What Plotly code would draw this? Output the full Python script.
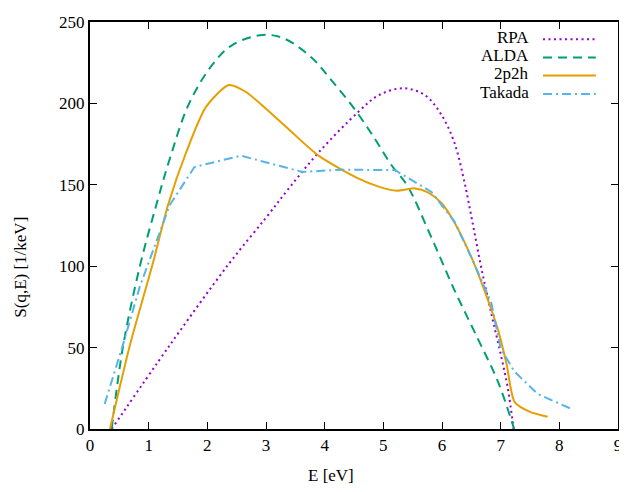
import plotly.graph_objects as go

# --- data ---
rpa_E = [0.37, 1.36, 2.37, 3.0, 3.39, 3.9, 4.58, 4.92, 5.34, 5.71, 5.99, 6.21, 6.38, 6.53, 6.67, 6.84, 7.0, 7.12, 7.22]
rpa_S = [0, 51.5, 101.6, 129.8, 147.8, 170, 195, 205, 209.3, 205, 193, 176, 152, 125, 99, 71, 46, 25.4, 0]

alda_E = [0.37, 0.56, 0.85, 1.13, 1.36, 1.69, 2.09, 2.43, 2.94, 3.3, 3.78, 4.12, 4.52, 4.86, 5.14, 5.4, 5.82, 6.21, 6.61, 6.95, 7.23]
alda_S = [0, 50, 100, 137.6, 166, 200, 224, 236, 242, 240, 228, 214, 196, 178, 162, 150, 117.6, 85.5, 55.5, 29.4, 0]

p2h_E = [0.34, 0.68, 1.07, 1.33, 1.64, 1.98, 2.37, 2.66, 2.99, 3.39, 3.9, 4.58, 4.92, 5.23, 5.54, 5.76, 5.99, 6.21, 6.5, 6.72, 6.95, 7.1, 7.24, 7.5, 7.8]
p2h_S = [0, 51.5, 101.6, 137.6, 170, 198, 211.3, 207, 197, 184, 167.8, 153.8, 148.9, 146.4, 147.8, 145.4, 138.8, 127, 105.6, 85.5, 61.5, 40, 16.5, 10.5, 7.5]

tak_E = [0.25, 0.56, 0.85, 1.36, 1.78, 2.57, 3.62, 4.29, 5.2, 5.82, 6.21, 6.55, 6.84, 7.0, 7.23, 7.63, 8.19]
tak_S = [15.4, 51.5, 87.6, 137.6, 160.9, 167.9, 157.9, 159.3, 159, 145.6, 127.6, 101.6, 77.5, 49.5, 35.5, 21.5, 12.6]

names = ["RPA", "ALDA", "2p2h", "Takada"]
colors = ["#9400d3", "#009e73", "#e69f00", "#56b4e9"]
dashes = ["2px,3.5px", "9px,6px", "solid", "9px,4px,2px,4px"]
smooth = [1.0, 1.0, 0.7, None]

FONT = "Liberation Serif, Tinos, Times New Roman, Times, DejaVu Serif, serif"

fig = go.Figure()
series = [(rpa_E, rpa_S), (alda_E, alda_S), (p2h_E, p2h_S), (tak_E, tak_S)]
for (xs, ys), nm, c, d, sm in zip(series, names, colors, dashes, smooth):
    if sm is None:
        line = dict(color=c, width=2, dash=d, shape="linear")
    else:
        line = dict(color=c, width=2, dash=d, shape="spline", smoothing=sm)
    fig.add_trace(go.Scatter(x=xs, y=ys, mode="lines", name=nm, line=line, showlegend=False))

# --- gnuplot style key (text on the left, sample on the right) ---
key_y = [0.9575, 0.9127, 0.8685, 0.8228]
for nm, c, d, ky in zip(names, colors, dashes, key_y):
    fig.add_annotation(x=0.835, y=ky + 0.004, xref="paper", yref="paper", text=nm, showarrow=False,
                       xanchor="right", yanchor="middle", font=dict(family=FONT, size=17, color="black"))
    fig.add_shape(type="line", xref="paper", yref="paper", x0=0.858, x1=0.958, y0=ky, y1=ky,
                  line=dict(color=c, width=2, dash=d))

# axis titles placed like the reference
fig.add_annotation(x=0.456, y=-0.115, xref="paper", yref="paper", text="E [eV]", showarrow=False,
                   xanchor="center", yanchor="middle", font=dict(family=FONT, size=17, color="black"))
fig.add_annotation(x=-0.132, y=0.397, xref="paper", yref="paper", text="S(q,E) [1/keV]", showarrow=False,
                   textangle=-90, xanchor="center", yanchor="middle", font=dict(family=FONT, size=17, color="black"))

axis_style = dict(showline=True, linecolor="black", linewidth=2, mirror="ticks", ticks="inside",
                  ticklen=7, tickwidth=1, tickcolor="black", showgrid=False, zeroline=False,
                  ticklabeloverflow="allow",
                  tickfont=dict(family=FONT, size=17, color="black"))

# page body has an 8px margin, so the figure is sized to sit inside the window
fig.update_layout(
    width=619, height=484,
    margin=dict(l=82, r=6, t=5, b=63),
    paper_bgcolor="white", plot_bgcolor="white",
    font=dict(family=FONT, size=17, color="black"),
    xaxis=dict(range=[0, 9], dtick=1, **axis_style),
    yaxis=dict(range=[0, 250], dtick=50, **axis_style),
)

fig.write_html("out.html")
